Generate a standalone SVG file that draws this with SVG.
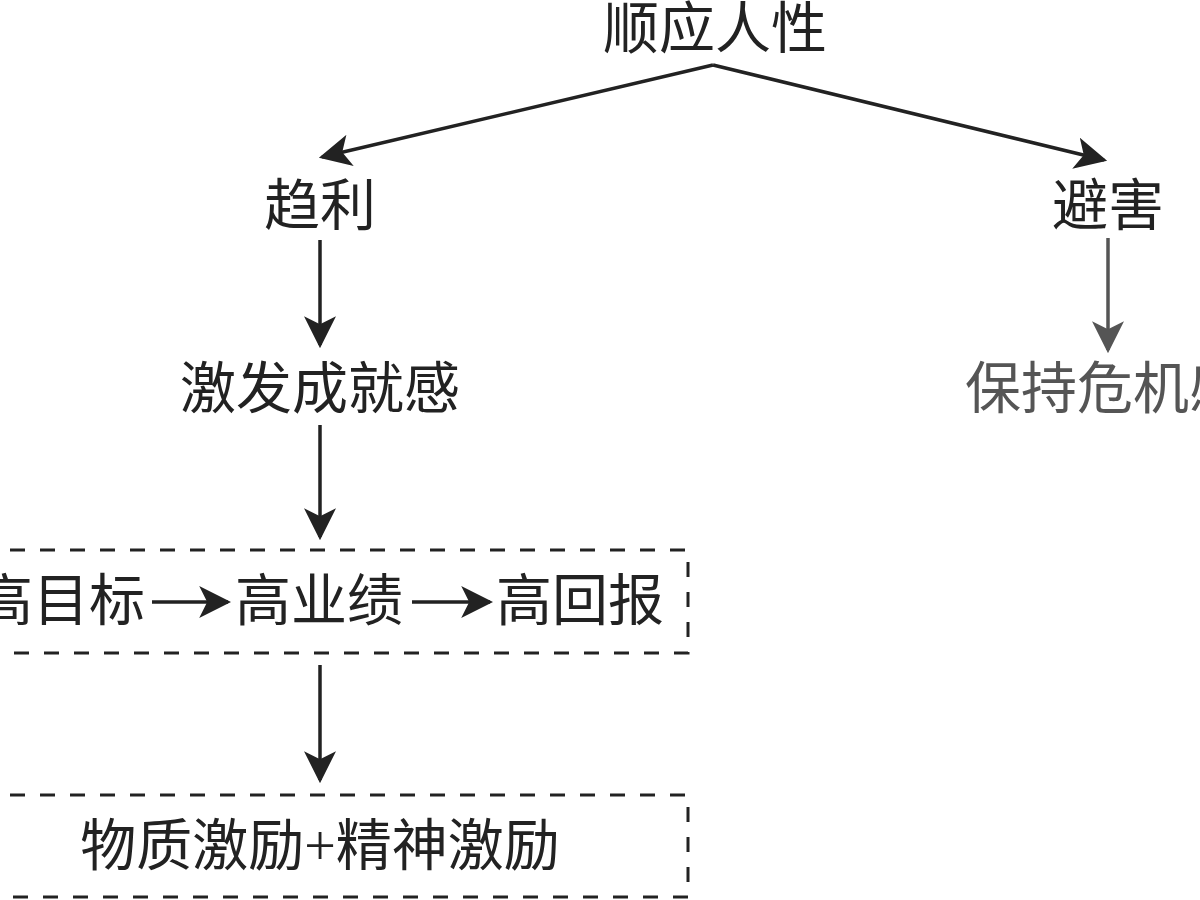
<svg xmlns="http://www.w3.org/2000/svg" width="1200" height="900" viewBox="0 0 1200 900">
<defs>
<marker id="ahb" viewBox="0 0 10 10" refX="9" refY="5" markerWidth="32" markerHeight="32" markerUnits="userSpaceOnUse" orient="auto"><path d="M0,0 L10,5 L0,10 L2.5,5 Z" fill="#222"/></marker>
<marker id="ahg" viewBox="0 0 10 10" refX="9" refY="5" markerWidth="32" markerHeight="32" markerUnits="userSpaceOnUse" orient="auto"><path d="M0,0 L10,5 L0,10 L2.5,5 Z" fill="#555"/></marker>
</defs>
<style>
text{font-family:"Liberation Serif","Noto Sans CJK SC",serif;font-size:56px;fill:#222;}
.g{fill:#555;}
.c{stroke:#222;stroke-width:3.5;fill:none;}
.cg{stroke:#555;stroke-width:3.5;fill:none;}
.box{fill:none;stroke:#222;stroke-width:3;stroke-dasharray:15 15;}
</style>
<rect width="1200" height="900" fill="#fff"/>
<g id="connectors">
<path class="c" d="M713,65 L322,157" marker-end="url(#ahb)"/>
<path class="c" d="M713,65 L1104,160" marker-end="url(#ahb)"/>
<path class="c" d="M320,240 L320,345" marker-end="url(#ahb)"/>
<path class="cg" d="M1108,238 L1108,350" marker-end="url(#ahg)"/>
<path class="c" d="M320,425 L320,537" marker-end="url(#ahb)"/>
<path class="c" d="M320,665 L320,780" marker-end="url(#ahb)"/>
</g>
<g id="n1"><text x="715" y="48" text-anchor="middle">顺应人性</text></g>
<g id="n2"><text x="320" y="225" text-anchor="middle">趋利</text></g>
<g id="n3"><text x="1108" y="225" text-anchor="middle">避害</text></g>
<g id="n4"><text x="320" y="408" text-anchor="middle">激发成就感</text></g>
<g id="n5"><text class="g" x="965" y="408">保持危机感</text></g>
<g id="n6">
<rect class="box" x="-20" y="550" width="708" height="103"/>
<text x="-23" y="620">高目标</text>
<path class="c" d="M152,602 L228,602" marker-end="url(#ahb)"/>
<text x="235" y="620">高业绩</text>
<path class="c" d="M412,602 L490,602" marker-end="url(#ahb)"/>
<text x="496" y="620">高回报</text>
</g>
<g id="n7">
<rect class="box" x="-20" y="795" width="708" height="102"/>
<text x="320" y="865" text-anchor="middle">物质激励+精神激励</text>
</g>
</svg>
